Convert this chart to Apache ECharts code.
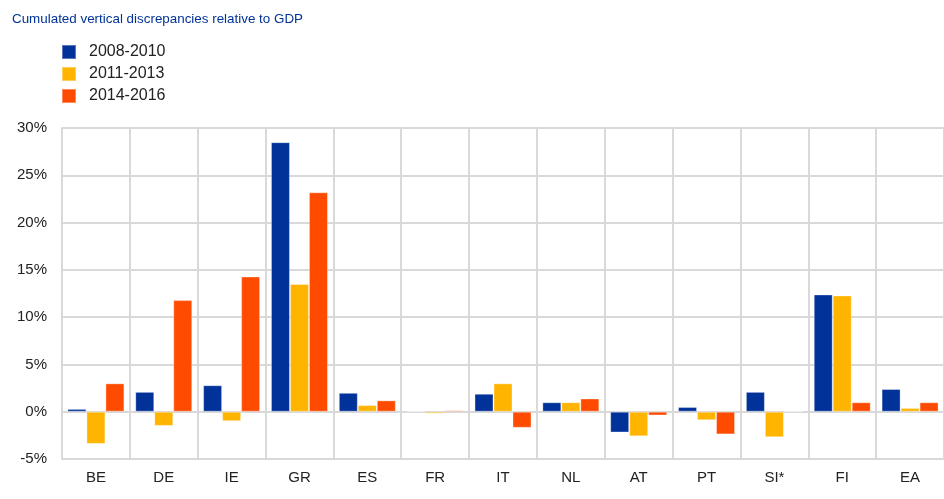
<!DOCTYPE html>
<html><head><meta charset="utf-8">
<script src="https://cdn.jsdelivr.net/npm/echarts@6/dist/echarts.min.js"></script>
<style>html,body{margin:0;padding:0;background:#fff}#c{width:944px;height:499px}</style>
</head><body><div id="c"></div>
<script>
var categories = ['BE','DE','IE','GR','ES','FR','IT','NL','AT','PT','SI*','FI','EA'];
var s2008 = [0.3, 2.1, 2.8, 28.5, 2.0, 0.05, 1.9, 1.0, -2.2, 0.5, 2.1, 12.4, 2.4];
var s2011 = [-3.4, -1.5, -1.0, 13.5, 0.7, -0.2, 3.0, 1.0, -2.6, -0.9, -2.7, 12.3, 0.4];
var s2014 = [3.0, 11.8, 14.3, 23.2, 1.2, 0.15, -1.7, 1.4, -0.4, -2.4, 0.05, 1.0, 1.0];
var names = ['2008-2010','2011-2013','2014-2016'];
var colors = ['#003299','#FFB400','#FF4B00'];
var chart = echarts.init(document.getElementById('c'));
function mk(i, data){
  return {name: names[i], type:'bar', data:data, barGap:'0%', barCategoryGap:'16%',
    itemStyle:{color:colors[i], borderColor:'rgba(255,255,255,0.35)', borderWidth:1}};
}
chart.setOption({
  animation:false,
  textStyle:{fontFamily:'Liberation Sans, Arial, sans-serif'},
  title:{text:'Cumulated vertical discrepancies relative to GDP', left:7, top:8,
    textStyle:{color:'#003399', fontSize:13.4, fontWeight:'normal', fontFamily:'Liberation Sans, Arial, sans-serif'}},
  legend:{orient:'vertical', left:56, top:39, itemWidth:14, itemHeight:14, itemGap:6,
    icon:'rect', textStyle:{fontSize:16, lineHeight:16, color:'#222', padding:[0,0,0,8]}, data:names},
  grid:{left:62, right:0, top:128, bottom:40, containLabel:false},
  xAxis:{type:'category', data:categories, boundaryGap:true,
    axisLine:{show:true, lineStyle:{color:'#d9d9d9', width:2}},
    axisTick:{show:false},
    axisLabel:{fontSize:15, color:'#222', margin:11},
    splitLine:{show:true, lineStyle:{color:'#d9d9d9', width:2}}},
  yAxis:{type:'value', min:-5, max:30, interval:5,
    axisLine:{show:true, lineStyle:{color:'#d9d9d9', width:2}},
    axisTick:{show:false},
    axisLabel:{fontSize:15, color:'#222', margin:15, formatter:'{value}%'},
    splitLine:{show:true, lineStyle:{color:'#d9d9d9', width:2}}},
  series:[mk(0,s2008), mk(1,s2011), mk(2,s2014)]
});
</script></body></html>
